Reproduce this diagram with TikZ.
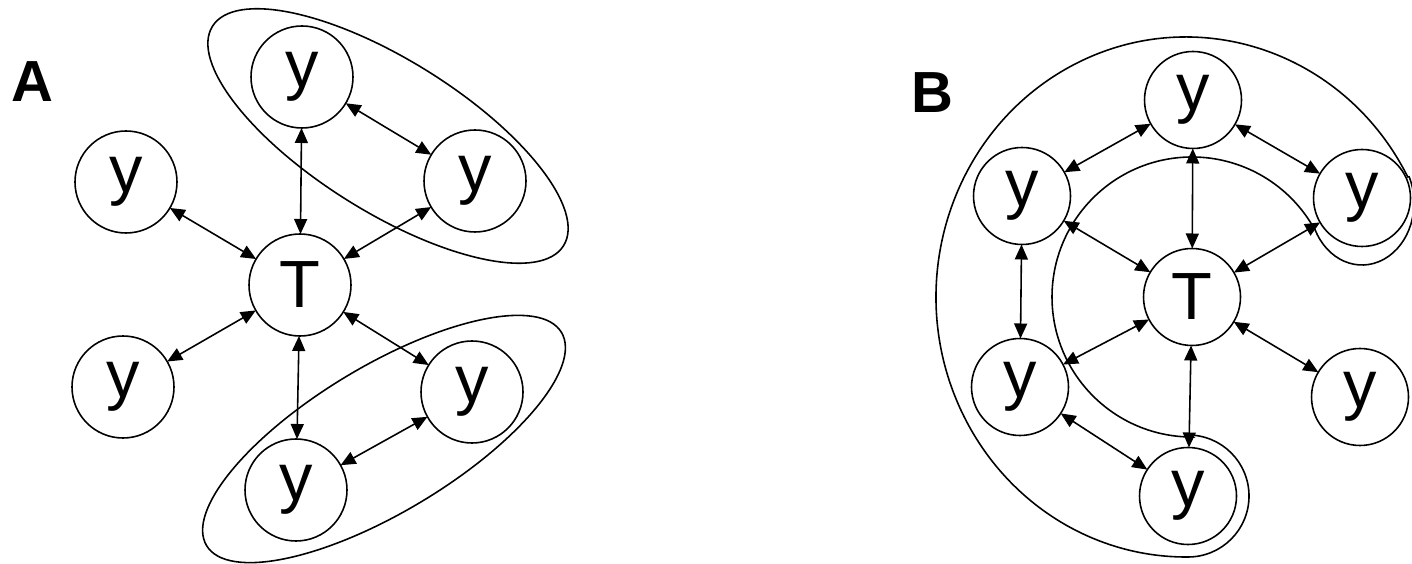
\documentclass[tikz,border=0pt]{standalone}
\usepackage{fontspec}
\setmainfont{Liberation Sans}
\usepackage{tkz-graph}
\usetikzlibrary{arrows.meta,calc}

\begin{document}
\begin{tikzpicture}
\useasboundingbox (0,0) rectangle (14.12,5.63);
\def \posunx {3.00}
\def \posdeux {11.92}
\tikzset{panellabel/.style = {font=\bfseries\fontsize{16.5}{18}\selectfont, inner sep=0pt}}
\node[panellabel] (lA) at (0.32,4.81) {A};
\node[panellabel] (lB) at (9.32,4.70) {B};

\tikzset{VertexStyle/.style = {shape = circle,draw = black,line width = 0.45pt,minimum size = 1.02cm, inner sep = 0pt,font = \fontsize{19}{20}\selectfont}}
\tikzset{EdgeStyle/.style = {line width = 0.45pt,{Triangle[length=1.5mm,width=1.3mm]}-{Triangle[length=1.5mm,width=1.3mm]}}}
   \Vertex[x=0+\posunx ,y=2.78,L=T]{TA}
   \Vertex[x=0.02+\posunx ,y=4.86,L=y]{YA1}
   \Vertex[x=1.75+\posunx ,y=3.82,L=y]{YA2}
   \Vertex[x=-1.74+\posunx ,y=3.81,L=y]{YA3}
   \Vertex[x=-1.77+\posunx ,y=1.76,L=y]{YA4}
   \Vertex[x=1.72+\posunx ,y=1.71,L=y]{YA5}
   \Vertex[x=-0.04+\posunx ,y=0.73,L=y]{YA6}
   \Edge(TA)(YA1)
   \Edge(TA)(YA2)
   \Edge(TA)(YA3)
   \Edge(TA)(YA4)
   \Edge(TA)(YA5)
   \Edge(TA)(YA6)
   \Edge(YA1)(YA2)
   \Edge(YA5)(YA6)
% the two pairs
   \draw[line width = 0.45pt, shift={(3.88,4.27)}, rotate=-32] (0,0) ellipse [x radius=2.07, y radius=0.76];
   \draw[line width = 0.45pt, shift={(3.84,1.24)}, rotate=31] (0,0) ellipse [x radius=2.07, y radius=0.73];

\tikzset{VertexStyle/.append style = {minimum size = 0.97cm}}
   \Vertex[x=0+\posdeux ,y=2.66,L=T]{TB}
   \Vertex[x=0.01+\posdeux ,y=4.63,L=y]{YB1}
   \Vertex[x=-1.70+\posdeux ,y=3.67,L=y]{YB2}
   \Vertex[x=1.70+\posdeux ,y=3.65,L=y]{YB3}
   \Vertex[x=-1.72+\posdeux ,y=1.76,L=y]{YB4}
   \Vertex[x=1.68+\posdeux ,y=1.66,L=y]{YB5}
   \Vertex[x=-0.04+\posdeux ,y=0.67,L=y]{YB6}
   \Edge(TB)(YB1)
   \Edge(TB)(YB2)
   \Edge(TB)(YB3)
   \Edge(TB)(YB4)
   \Edge(TB)(YB5)
   \Edge(TB)(YB6)
   \Edge(YB1)(YB2)
   \Edge(YB1)(YB3)
   \Edge(YB2)(YB4)
   \Edge(YB4)(YB6)
% ring round the five outer y
   \draw[line width = 0.45pt]
      ($(YB3)+(0,-0.05)+(205:0.52 and 0.62)$) arc[start angle=205, end angle=385, x radius=0.52, y radius=0.62]
      -- ($(11.86,2.66)+(27.5:2.50 and 2.60)$) arc[start angle=27.5, end angle=270, x radius=2.50, y radius=2.60]
      -- ($(YB6)+(-90:0.61)$) arc[start angle=-90, end angle=90, radius=0.61]
      -- ($(TB)+(270:1.40)$) arc[start angle=270, end angle=32, radius=1.40]
      -- cycle;
\end{tikzpicture}
\end{document}
